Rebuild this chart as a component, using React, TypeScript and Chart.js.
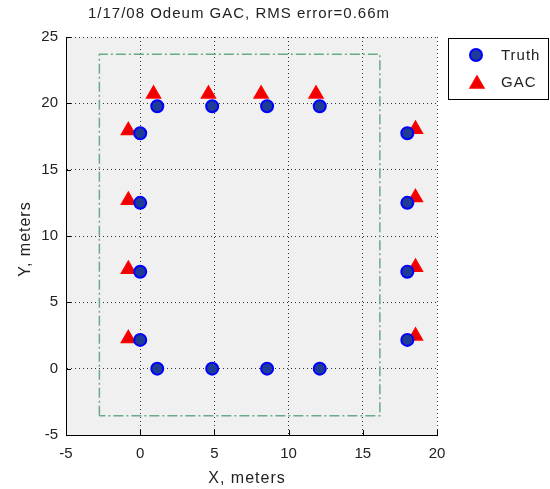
import React, { useEffect, useRef } from "react";
import { Chart, registerables } from "chart.js";

Chart.register(...registerables);

const titleText = "1/17/08 Odeum GAC, RMS error=0.66m";
const xLabel = "X, meters";
const yLabel = "Y, meters";
const xTicks = [-5, 0, 5, 10, 15, 20];
const yTicks = [-5, 0, 5, 10, 15, 20, 25];

const truthX = [0, 0, 0, 0, 1.15, 4.85, 8.55, 12.1, 18, 18, 18, 18, 1.15, 4.85, 8.55, 12.1];
const truthY = [17.75, 12.5, 7.3, 2.17, 0, 0, 0, 0, 17.75, 12.5, 7.3, 2.17, 19.78, 19.78, 19.78, 19.78];

const gacX = [-0.8, -0.8, -0.8, -0.8, 0.9, 4.6, 8.15, 11.85, 18.55, 18.55, 18.55, 18.55];
const gacY = [17.95, 12.7, 7.5, 2.27, 20.7, 20.7, 20.7, 20.7, 18.05, 12.9, 7.65, 2.47];

const rectX = [-2.75, -2.75, 16.15, 16.15, -2.75];
const rectY = [-3.55, 23.7, 23.7, -3.55, -3.55];

const legendLabels = ["Truth", "GAC"];

const FONT = "'Liberation Sans', Arial, Helvetica, sans-serif";

export default function App() {
  const ref = useRef<HTMLCanvasElement | null>(null);

  useEffect(() => {
    document.body.style.margin = "0";
    const canvas = ref.current;
    if (!canvas) return;

    const decor = {
      id: "decor",
      beforeDraw(chart: any) {
        const { ctx, chartArea: a } = chart;
        ctx.save();
        ctx.fillStyle = "#ffffff";
        ctx.fillRect(0, 0, chart.width, chart.height);
        ctx.fillStyle = "#f0f0f0";
        ctx.fillRect(a.left, a.top, a.right - a.left, a.bottom - a.top);
        ctx.restore();
      },
      afterDraw(chart: any) {
        const { ctx, chartArea: a, scales } = chart;
        ctx.save();
        // inward ticks
        ctx.strokeStyle = "#000";
        ctx.lineWidth = 1;
        ctx.beginPath();
        xTicks.forEach((v) => {
          const px = Math.round(scales.x.getPixelForValue(v)) + 0.5;
          ctx.moveTo(px, a.bottom);
          ctx.lineTo(px, a.bottom - 5);
        });
        yTicks.forEach((v) => {
          const py = Math.round(scales.y.getPixelForValue(v)) + 0.5;
          ctx.moveTo(a.left, py);
          ctx.lineTo(a.left + 5, py);
        });
        ctx.stroke();

        ctx.fillStyle = "#222";
        ctx.textAlign = "center";
        ctx.textBaseline = "middle";
        ctx.font = `15px ${FONT}`;
        (ctx as any).letterSpacing = "1px";
        ctx.fillText(titleText, 239, 14);
        ctx.font = `16px ${FONT}`;
        ctx.fillText(xLabel, 247, 479);
        ctx.save();
        ctx.translate(26, 239);
        ctx.rotate(-Math.PI / 2);
        ctx.fillText(yLabel, 0, 0);
        ctx.restore();
        (ctx as any).letterSpacing = "0px";

        // legend
        ctx.fillStyle = "#ffffff";
        ctx.fillRect(448, 38, 101, 62);
        ctx.strokeStyle = "#000";
        ctx.lineWidth = 1;
        ctx.strokeRect(448.5, 38.5, 100, 61);
        // circle
        ctx.beginPath();
        ctx.arc(476, 55, 6, 0, Math.PI * 2);
        ctx.fillStyle = "#1e3c96";
        ctx.fill();
        ctx.lineWidth = 2;
        ctx.strokeStyle = "#0000ff";
        ctx.stroke();
        // triangle
        const tx = 477, ty = 84, r = 8;
        ctx.beginPath();
        for (let i = 0; i < 3; i++) {
          const ang = (i * 2 * Math.PI) / 3;
          const X = tx + Math.sin(ang) * r;
          const Y = ty - Math.cos(ang) * r;
          if (i === 0) ctx.moveTo(X, Y);
          else ctx.lineTo(X, Y);
        }
        ctx.closePath();
        ctx.fillStyle = "#ee0000";
        ctx.fill();
        ctx.lineWidth = 1.5;
        ctx.strokeStyle = "#ff0000";
        ctx.stroke();

        ctx.fillStyle = "#222";
        ctx.font = `15px ${FONT}`;
        (ctx as any).letterSpacing = "1px";
        ctx.textAlign = "left";
        ctx.textBaseline = "middle";
        ctx.fillText(legendLabels[0], 501, 56);
        ctx.fillText(legendLabels[1], 501, 83);
        (ctx as any).letterSpacing = "0px";
        ctx.restore();
      },
    };

    const gridOpts = {
      color: "rgba(0,0,0,0.8)",
      lineWidth: 1,
      drawTicks: false,
    };

    const chart = new Chart(canvas, {
      type: "scatter",
      data: {
        datasets: [
          {
            label: legendLabels[0],
            data: truthX.map((x, i) => ({ x, y: truthY[i] })),
            pointStyle: "circle",
            pointRadius: 6,
            pointBackgroundColor: "#1e3c96",
            pointBorderColor: "#0000ff",
            pointBorderWidth: 2,
            showLine: false,
          },
          {
            label: legendLabels[1],
            data: gacX.map((x, i) => ({ x, y: gacY[i] })),
            pointStyle: "triangle",
            pointRadius: 8,
            pointBackgroundColor: "#ee0000",
            pointBorderColor: "#ff0000",
            pointBorderWidth: 1.5,
            showLine: false,
          },
          {
            label: "room",
            data: rectX.map((x, i) => ({ x, y: rectY[i] })),
            showLine: true,
            pointRadius: 0,
            borderColor: "#6aaa88",
            borderWidth: 1.5,
            borderDash: [10, 3, 2, 3],
            fill: false,
          },
        ],
      },
      options: {
        responsive: false,
        animation: false,
        layout: { padding: { left: 0, right: 113, top: 37, bottom: 0 } },
        plugins: {
          legend: { display: false },
          title: { display: false },
          tooltip: { enabled: false },
        },
        scales: {
          x: {
            type: "linear",
            min: -5,
            max: 20,
            afterBuildTicks: (s: any) => {
              s.ticks = xTicks.map((v) => ({ value: v }));
            },
            afterFit: (s: any) => {
              s.height = 54;
            },
            grid: gridOpts,
            border: { display: true, color: "#000", width: 1, dash: [1, 3] },
            ticks: {
              color: "#222",
              font: { family: FONT, size: 15 },
              padding: 10,
              maxRotation: 0,
            },
          },
          y: {
            type: "linear",
            min: -5,
            max: 25,
            afterBuildTicks: (s: any) => {
              s.ticks = yTicks.map((v) => ({ value: v }));
            },
            afterFit: (s: any) => {
              s.width = 66;
            },
            grid: gridOpts,
            border: { display: true, color: "#000", width: 1, dash: [1, 3] },
            ticks: {
              color: "#222",
              font: { family: FONT, size: 15 },
              padding: 8,
            },
          },
        },
      },
      plugins: [decor],
    });

    return () => chart.destroy();
  }, []);

  return (
    <div style={{ position: "absolute", left: 0, top: 0, width: 550, height: 489 }}>
      <canvas ref={ref} width={550} height={489} />
    </div>
  );
}
